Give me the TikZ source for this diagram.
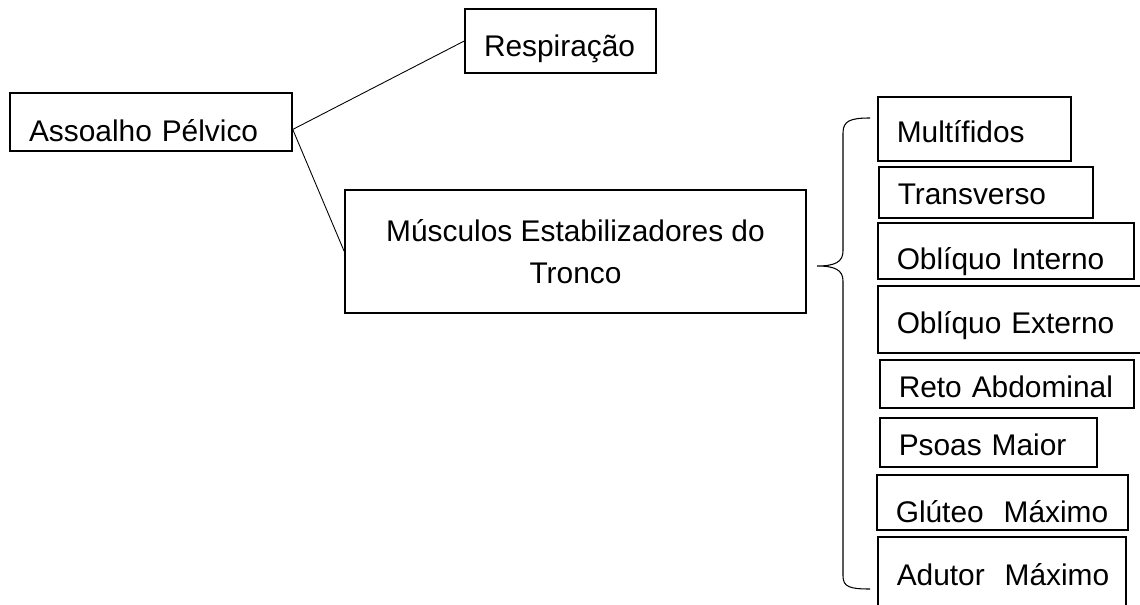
\documentclass[tikz,border=0pt]{standalone}
\usepackage{fontspec}
\setmainfont{Liberation Sans}
\usetikzlibrary{shapes,arrows,positioning,calc}

\begin{document}
\begin{tikzpicture}[
    caixa/.style={draw, rectangle, line width=0.85pt, inner sep=0pt,
        font=\fontsize{17pt}{23.9pt}\selectfont},
    caixaesq/.style={caixa, inner xsep=0.38cm, align=left, text depth=0pt},
    musculo/.style={caixaesq, anchor=west},
    ligacao/.style={line width=0.5pt}
]
\useasboundingbox (0,0) rectangle (22.8,-12.1);

% 
\node[caixaesq, text width=4.88cm, minimum height=1.16cm, text height=0.8cm] (assoalho) at (3.02,-2.44) {Assoalho Pélvico};
\node[caixaesq, text width=3.06cm, minimum height=1.28cm, text height=0.64cm] (respiracao) at (11.21,-0.82) {Respiração};
\node[caixa, align=center, minimum width=9.22cm, minimum height=2.46cm] (musculos) at (11.51,-5.03) {Músculos Estabilizadores do\\Tronco};

% 
\node[musculo, text width=3.10cm, minimum height=1.28cm, text height=0.56cm] (m1) at (17.54,-2.58) {Multífidos};
\node[musculo, text width=3.52cm, minimum height=1.02cm, text height=0.50cm] (m2) at (17.56,-3.85) {Transverso};
\node[musculo, text width=4.36cm, minimum height=1.12cm, text height=0.76cm] (m3) at (17.54,-5.02) {Oblíquo Interno};
\node[musculo, text width=4.70cm, minimum height=1.34cm, text height=0.54cm] (m4) at (17.54,-6.39) {Oblíquo Externo};
\node[musculo, text width=4.32cm, minimum height=0.96cm, text height=0.56cm] (m5) at (17.58,-7.68) {Reto Abdominal};
\node[musculo, text width=3.58cm, minimum height=0.98cm, text height=0.50cm] (m6) at (17.58,-8.85) {Psoas Maior};
\node[musculo, text width=4.26cm, minimum height=1.10cm, text height=0.78cm] (m7) at (17.52,-10.05) {\mbox{Glúteo\ \ Máximo}};
\node[musculo, text width=4.20cm, minimum height=1.56cm, text height=0.36cm] (m8) at (17.54,-11.52) {\mbox{Adutor\ \ Máximo}};

% ligacoes
\draw[ligacao] (assoalho.-3) -- (respiracao.west);
\draw[ligacao] (assoalho.-3) -- (musculos.west);

% chave
\draw[line width=0.6pt] (17.40,-2.36) .. controls (17.00,-2.36) and (16.86,-2.42) .. (16.86,-2.66)
    -- (16.86,-5.02) .. controls (16.86,-5.24) and (16.70,-5.32) .. (16.34,-5.32)
    .. controls (16.70,-5.32) and (16.86,-5.40) .. (16.86,-5.62)
    -- (16.86,-11.52) .. controls (16.86,-11.74) and (17.00,-11.78) .. (17.40,-11.78);

\end{tikzpicture}
\end{document}
